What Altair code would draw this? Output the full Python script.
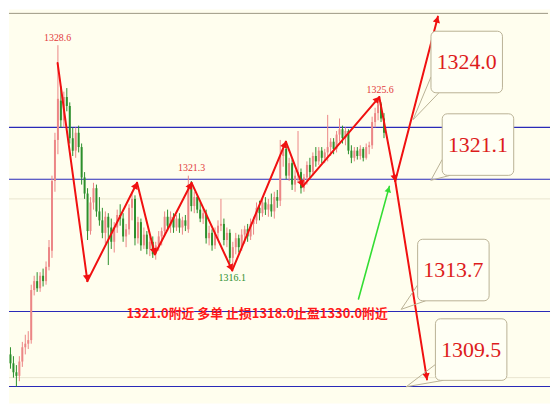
import math
import altair as alt
import numpy as np
import pandas as pd

# ---------------- data ----------------
opens = [1311.3, 1310.8, 1310.3, 1310.1, 1310.9, 1311.7, 1311.9, 1312.1, 1314.9, 1315.4,
         1315.0, 1315.7, 1315.4, 1316.2, 1317.1, 1321.0, 1323.3, 1325.5, 1324.4, 1325.7,
         1325.2, 1323.4, 1322.7, 1323.7, 1322.9, 1321.2, 1320.3, 1318.2, 1319.8, 1320.6,
         1319.3, 1318.8, 1318.1, 1319.0, 1318.4, 1317.6, 1318.4, 1319.1, 1318.9, 1317.9,
         1318.3, 1319.5, 1320.0, 1317.8, 1318.7, 1317.4, 1318.0, 1317.2, 1317.6, 1316.9,
         1317.4, 1317.9, 1318.2, 1319.0, 1318.5, 1319.0, 1318.4, 1318.9, 1318.4, 1318.8,
         1318.3, 1320.8, 1319.6, 1320.1, 1319.4, 1318.9, 1319.2, 1317.8, 1318.1, 1317.4,
         1318.1, 1318.5, 1318.6, 1317.7, 1318.1, 1316.7, 1317.3, 1317.8, 1317.3, 1318.0,
         1318.3, 1317.9, 1318.6, 1318.8, 1319.5, 1319.2, 1319.8, 1319.4, 1319.7, 1319.3,
         1320.1, 1319.9, 1322.4, 1322.8, 1321.3, 1322.0, 1320.8, 1321.3, 1321.5, 1320.6,
         1321.2, 1321.9, 1321.5, 1322.4, 1322.1, 1322.7, 1322.3, 1322.6, 1322.9, 1323.2,
         1322.8, 1323.6, 1323.9, 1323.4, 1323.8, 1322.7, 1322.3, 1322.7, 1322.4, 1322.8,
         1322.3, 1322.9, 1323.0, 1324.3, 1324.8, 1325.3, 1324.5]
highs = [1311.7, 1311.2, 1310.7, 1311.2, 1312.0, 1312.4, 1312.6, 1315.2, 1315.7, 1315.9,
         1315.9, 1316.1, 1316.5, 1317.7, 1321.3, 1323.7, 1328.6, 1326.3, 1326.0, 1326.2,
         1325.4, 1324.0, 1324.0, 1324.1, 1323.1, 1321.5, 1320.6, 1320.1, 1320.9, 1320.8,
         1320.1, 1319.5, 1319.3, 1319.2, 1318.9, 1318.7, 1319.4, 1319.7, 1319.2, 1318.6,
         1319.7, 1320.4, 1320.2, 1319.0, 1318.9, 1318.4, 1318.2, 1317.9, 1317.9, 1317.6,
         1318.2, 1318.4, 1319.3, 1319.4, 1319.3, 1319.2, 1319.1, 1319.2, 1319.0, 1319.1,
         1321.3, 1321.0, 1320.4, 1320.2, 1319.8, 1319.5, 1319.4, 1318.5, 1318.3, 1318.4,
         1318.8, 1320.0, 1318.9, 1318.4, 1318.3, 1317.6, 1318.1, 1318.0, 1318.3, 1318.5,
         1318.6, 1318.9, 1319.0, 1319.8, 1319.9, 1320.1, 1320.1, 1320.0, 1320.3, 1320.4,
         1320.5, 1323.3, 1323.1, 1323.0, 1322.3, 1322.2, 1321.6, 1323.8, 1321.7, 1321.4,
         1322.1, 1322.3, 1322.6, 1322.9, 1322.9, 1322.9, 1322.8, 1324.7, 1323.4, 1323.4,
         1323.8, 1324.5, 1324.1, 1324.0, 1323.9, 1323.0, 1322.9, 1322.9, 1323.0, 1322.9,
         1323.1, 1323.2, 1324.6, 1325.1, 1325.6, 1325.4, 1324.8]
lows = [1310.5, 1310.0, 1309.5, 1309.8, 1310.6, 1311.3, 1311.6, 1311.9, 1314.6, 1314.8,
        1314.8, 1315.1, 1315.2, 1316.0, 1316.7, 1320.4, 1322.5, 1324.0, 1324.0, 1324.9,
        1323.1, 1322.4, 1322.3, 1322.6, 1320.8, 1320.0, 1317.7, 1318.0, 1319.4, 1319.0,
        1318.5, 1317.8, 1317.5, 1316.3, 1317.2, 1317.0, 1318.1, 1318.5, 1317.6, 1317.3,
        1318.0, 1318.8, 1317.4, 1317.5, 1317.1, 1317.2, 1316.9, 1316.8, 1316.7, 1316.6,
        1317.1, 1317.4, 1317.9, 1318.2, 1318.1, 1318.1, 1318.2, 1318.1, 1318.0, 1318.2,
        1318.1, 1319.3, 1319.2, 1319.2, 1318.7, 1318.6, 1317.5, 1317.4, 1317.1, 1317.2,
        1317.7, 1318.2, 1317.4, 1317.3, 1316.4, 1316.1, 1316.9, 1317.0, 1317.1, 1317.5,
        1317.6, 1317.7, 1318.0, 1318.6, 1318.8, 1319.0, 1319.1, 1319.0, 1319.0, 1318.9,
        1319.5, 1319.6, 1321.8, 1321.1, 1321.0, 1320.5, 1320.4, 1320.9, 1320.3, 1320.4,
        1320.8, 1321.2, 1321.3, 1321.8, 1321.9, 1322.0, 1322.0, 1322.1, 1322.4, 1322.5,
        1322.6, 1323.2, 1323.1, 1323.0, 1322.5, 1322.0, 1322.1, 1322.2, 1322.2, 1322.1,
        1322.2, 1322.5, 1322.8, 1324.0, 1324.4, 1324.3, 1323.4]
closes = [1310.8, 1310.3, 1310.1, 1310.9, 1311.7, 1311.9, 1312.1, 1314.9, 1315.4, 1315.0,
          1315.7, 1315.4, 1316.2, 1317.3, 1321.0, 1323.3, 1325.6, 1324.4, 1325.7, 1325.2,
          1323.4, 1322.7, 1323.7, 1322.9, 1321.2, 1320.3, 1318.2, 1319.8, 1320.6, 1319.3,
          1318.8, 1318.1, 1319.0, 1318.4, 1317.6, 1318.4, 1319.1, 1318.9, 1317.9, 1318.3,
          1319.5, 1320.0, 1317.8, 1318.7, 1317.4, 1318.0, 1317.2, 1317.6, 1316.9, 1317.4,
          1317.9, 1318.2, 1319.0, 1318.5, 1319.0, 1318.4, 1318.9, 1318.4, 1318.8, 1318.5,
          1320.8, 1319.6, 1320.1, 1319.4, 1318.9, 1319.2, 1317.8, 1318.1, 1317.4, 1318.1,
          1318.5, 1318.6, 1317.7, 1318.1, 1316.7, 1317.3, 1317.8, 1317.3, 1318.0, 1318.3,
          1317.9, 1318.6, 1318.8, 1319.5, 1319.2, 1319.8, 1319.4, 1319.7, 1319.3, 1320.1,
          1319.9, 1322.4, 1322.8, 1321.3, 1322.0, 1320.8, 1321.3, 1321.5, 1320.6, 1321.2,
          1321.9, 1321.5, 1322.4, 1322.1, 1322.7, 1322.3, 1322.6, 1322.9, 1323.2, 1322.8,
          1323.6, 1323.9, 1323.4, 1323.8, 1322.7, 1322.3, 1322.7, 1322.4, 1322.8, 1322.3,
          1322.9, 1323.0, 1324.3, 1324.8, 1325.3, 1324.5, 1323.7]

levels = [1324.0, 1321.1, 1313.7, 1309.5]
level_labels = ["1324.0", "1321.1", "1313.7", "1309.5"]
grid_levels = [1320.0, 1310.0]

zig_idx = [15.9, 25.95, 42.7, 48.7, 61.1, 74.8, 92.9, 98.6, 124.4, 129.8]
zig_price = [1327.6, 1315.4, 1320.9, 1316.9, 1320.9, 1316.0, 1323.2, 1320.7, 1325.7, 1321.0]
up_target = (144.2, 1330.2)
down_target = (140.5, 1309.9)
green_from = (117.4, 1314.4)
green_to = (127.8, 1320.7)

peak_texts = ["1328.6", "1321.3", "1316.1", "1325.6"]
peak_idx = [15.9, 61.1, 74.8, 124.7]
peak_price = [1328.75, 1321.45, 1315.85, 1325.8]
peak_kind = ["high", "high", "low", "high"]

plan_text = "1321.0附近 多单 止损1318.0止盈1330.0附近"
plan_pos = (83.2, 1313.55)

# callout boxes: centre (index, price) and tail apex (index, price)
call_cx = [153.9, 157.7, 149.4, 155.4]
call_cy = [1327.66, 1323.04, 1316.02, 1311.57]
apex_x = [135.8, 141.8, 131.8, 133.5]
apex_y = [1324.43, 1321.04, 1313.82, 1309.49]

# ---------------- scales / helpers ----------------
W, H = 545, 397
X_DOM = [-0.5, 182.0]
Y_DOM = [1308.55, 1330.6]
PX = W / (X_DOM[1] - X_DOM[0])
PY = H / (Y_DOM[1] - Y_DOM[0])
xs = alt.Scale(domain=X_DOM, nice=False, zero=False, padding=0)
ys = alt.Scale(domain=Y_DOM, nice=False, zero=False, padding=0)


def X(f):
    return alt.X(f, type="quantitative", scale=xs, axis=None)


def Y(f):
    return alt.Y(f, type="quantitative", scale=ys, axis=None)


UP, DOWN = "#ec8686", "#2c8f2c"
RED = "#f01010"
BLUE = "#2a2ab8"

candles = pd.DataFrame({"i": range(len(closes)), "open": opens, "high": highs,
                        "low": lows, "close": closes})
candles["dir"] = np.where(candles["close"] >= candles["open"], "up", "down")
ccol = alt.Color("dir:N", scale=alt.Scale(domain=["up", "down"], range=[UP, DOWN]), legend=None)

wicks = alt.Chart(candles).mark_rule(strokeWidth=1).encode(
    x=X("i"), y=Y("low"), y2=alt.Y2("high"), color=ccol)
bodies = alt.Chart(candles).mark_bar(size=2).encode(
    x=X("i"), y=Y("open"), y2=alt.Y2("close"), color=ccol)
candle_layer = alt.layer(wicks, bodies)

lv = pd.DataFrame({"v": levels})
level_rules = alt.Chart(lv).mark_rule(color=BLUE, strokeWidth=1.1).encode(y=Y("v"))
gv = pd.DataFrame({"v": grid_levels})
grid_rules = alt.Chart(gv).mark_rule(color="#e9e5d0", strokeWidth=1).encode(y=Y("v"))
top_rule = alt.Chart(gv).mark_rule(color="#a8a590", strokeWidth=1).encode(
    y=alt.value(4), x=alt.value(0), x2=alt.value(W - 2))

# segments
segs = []
for k in range(len(zig_idx) - 1):
    segs.append((zig_idx[k], zig_price[k], zig_idx[k + 1], zig_price[k + 1], "red"))
segs.append((zig_idx[-1], zig_price[-1], up_target[0], up_target[1], "red"))
segs.append((zig_idx[-1], zig_price[-1], down_target[0], down_target[1], "red"))
segs.append((green_from[0], green_from[1], green_to[0], green_to[1], "green"))
seg_df = pd.DataFrame(segs, columns=["x1", "y1", "x2", "y2", "c"])

heads = []
for x1, y1, x2, y2, c in segs:
    dxp = (x2 - x1) * PX
    dyp = (y2 - y1) * PY
    ln = math.hypot(dxp, dyp)
    ang = (math.degrees(math.atan2(dxp, dyp)) + 360) % 360
    back = 4.0
    heads.append((x2 - back * dxp / ln / PX, y2 - back * dyp / ln / PY, ang, c))
head_df = pd.DataFrame(heads, columns=["x", "y", "ang", "c"])

red_df = seg_df[seg_df.c == "red"]
grn_df = seg_df[seg_df.c == "green"]
red_lines = alt.Chart(red_df).mark_rule(strokeCap="round", color=RED, strokeWidth=2).encode(
    x=X("x1"), y=Y("y1"), x2=alt.X2("x2"), y2=alt.Y2("y2"))
grn_lines = alt.Chart(grn_df).mark_rule(strokeCap="round", color="#33dd33", strokeWidth=1.6).encode(
    x=X("x1"), y=Y("y1"), x2=alt.X2("x2"), y2=alt.Y2("y2"))
red_heads = alt.Chart(head_df[head_df.c == "red"]).mark_point(
    shape="triangle", filled=True, size=55, opacity=1, strokeWidth=0, color=RED).encode(
    x=X("x"), y=Y("y"), angle=alt.Angle("ang:Q", scale=None))
grn_heads = alt.Chart(head_df[head_df.c == "green"]).mark_point(
    shape="triangle", filled=True, size=45, opacity=1, strokeWidth=0, color="#33dd33").encode(
    x=X("x"), y=Y("y"), angle=alt.Angle("ang:Q", scale=None))

# peak labels
pk = pd.DataFrame({"t": peak_texts, "x": peak_idx, "y": peak_price, "k": peak_kind})
peak_hi = alt.Chart(pk[pk.k == "high"]).mark_text(
    font="Liberation Sans Narrow", fontSize=10, color="#e23a3a", baseline="bottom").encode(
    x=X("x"), y=Y("y"), text="t:N")
peak_lo = alt.Chart(pk[pk.k == "low"]).mark_text(
    font="Liberation Sans Narrow", fontSize=10, color="#2c8f2c", baseline="top").encode(
    x=X("x"), y=Y("y"), text="t:N")

plan = alt.Chart(pd.DataFrame({"t": [plan_text], "x": [plan_pos[0]], "y": [plan_pos[1]]})).mark_text(
    font="Liberation Sans Narrow, Noto Sans CJK SC", fontSize=13, fontWeight="bold",
    color="#ff1a1a", baseline="middle", align="center").encode(
    x=X("x"), y=Y("y"), text="t:N")

# callouts
HX, HY = 36 / PX, 31 / PY
cb = pd.DataFrame({"t": level_labels, "cx": call_cx, "cy": call_cy})
cb["x1"] = cb.cx - HX
cb["x2"] = cb.cx + HX
cb["y1"] = cb.cy - HY
cb["y2"] = cb.cy + HY
tail_rows = []
for n in range(len(cb)):
    left = cb.x1[n]
    bottom = cb.y1[n]
    tail_rows.append((level_labels[n], 0, left, bottom + 16 / PY))
    tail_rows.append((level_labels[n], 1, apex_x[n], apex_y[n]))
    tail_rows.append((level_labels[n], 2, left + 8 / PX, bottom))
tails_df = pd.DataFrame(tail_rows, columns=["t", "o", "x", "y"])
tails = alt.Chart(tails_df).mark_line(color="#b9b195", strokeWidth=1).encode(
    x=X("x"), y=Y("y"), detail="t:N", order="o:Q")
boxes = alt.Chart(cb).mark_rect(fill="#fffff4", stroke="#b9b195", strokeWidth=1,
                                cornerRadius=5).encode(
    x=X("x1"), x2=alt.X2("x2"), y=Y("y1"), y2=alt.Y2("y2"))
box_text = alt.Chart(cb).mark_text(font="Liberation Serif", fontSize=22, color="#dd1c1c",
                                   align="center", baseline="middle").encode(
    x=X("cx"), y=Y("cy"), text="t:N")

chart = alt.layer(
    grid_rules, top_rule, level_rules, candle_layer, red_lines, grn_lines, red_heads, grn_heads,
    peak_hi, peak_lo, plan, tails, boxes, box_text
).properties(width=W, height=H, padding=0, background="white").configure_view(
    strokeWidth=0, fill="#fffeee")

chart.save("out.html", embed_options={"renderer": "svg", "actions": False})
